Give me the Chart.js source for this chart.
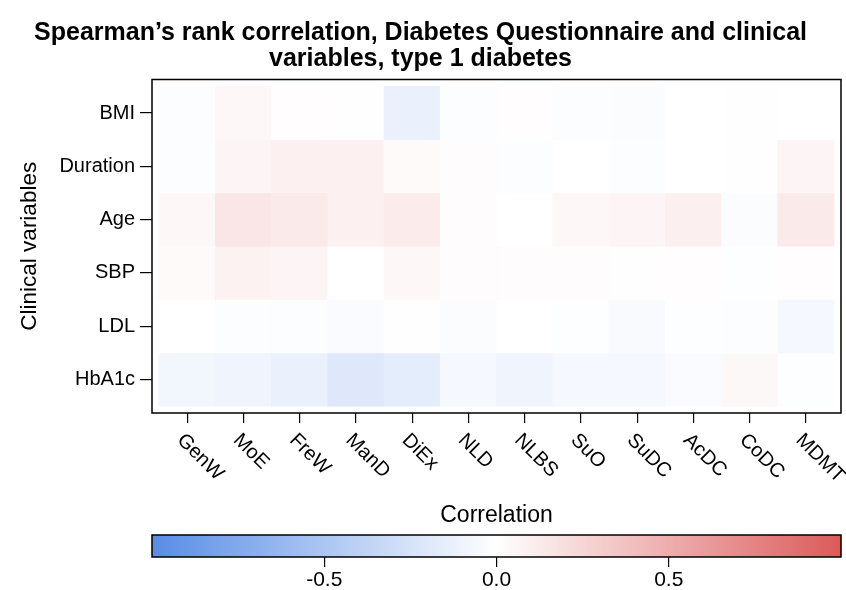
<!DOCTYPE html>
<html>
<head>
<meta charset="utf-8">
<script src="https://cdn.jsdelivr.net/npm/chart.js@4.4.1/dist/chart.umd.min.js"></script>
<style>
  html, body { margin: 0; background: #fff; }
  #wrap { position: relative; width: 846px; height: 590px; }
</style>
</head>
<body>
<div id="wrap"><canvas id="heat" width="846" height="590"></canvas></div>
<script>
// questionnaire items (columns) and clinical variables (rows, top to bottom)
const questionnaireItems = ['GenW', 'MoE', 'FreW', 'ManD', 'DiEx', 'NLD', 'NLBS', 'SuO', 'SuDC', 'AcDC', 'CoDC', 'MDMT'];
const clinicalVars = ['BMI', 'Duration', 'Age', 'SBP', 'LDL', 'HbA1c'];

// Spearman correlations
const bmiCorr      = [-0.02, 0.05, 0.01, 0.005, -0.12, -0.02, 0.01, -0.02, -0.03, 0.0, 0.005, 0.0];
const durationCorr = [-0.02, 0.06, 0.09, 0.09, 0.03, 0.02, -0.02, 0.0, -0.02, 0.0, 0.005, 0.06];
const ageCorr      = [0.05, 0.15, 0.13, 0.09, 0.12, 0.02, 0.0, 0.05, 0.06, 0.1, -0.03, 0.13];
const sbpCorr      = [0.03, 0.08, 0.06, 0.0, 0.05, 0.02, 0.02, 0.02, 0.005, 0.01, -0.01, 0.01];
const ldlCorr      = [0.0, -0.02, -0.02, -0.035, -0.005, -0.025, 0.0, -0.01, -0.04, -0.01, -0.02, -0.06];
const hba1cCorr    = [-0.08, -0.09, -0.12, -0.2, -0.16, -0.06, -0.09, -0.06, -0.06, -0.035, 0.045, -0.01];

const corrRows = [bmiCorr, durationCorr, ageCorr, sbpCorr, ldlCorr, hba1cCorr];
const colorbarTicks = [-0.5, 0, 0.5];

// colour scale: blue - white - red
const lowColor = [88, 140, 230];
const highColor = [220, 90, 90];

function corrColor(v) {
    const t = Math.min(1, Math.abs(v));
    const end = v < 0 ? lowColor : highColor;
    const c = end.map(e => Math.round(255 + (e - 255) * t));
    return `rgb(${c[0]},${c[1]},${c[2]})`;
}

Chart.defaults.font.family = '"Liberation Sans", Arial, sans-serif';
Chart.defaults.color = '#000';

// frame, rotated item labels and colour bar
const decorations = {
    id: 'decorations',
    afterDraw(chart) {
        const ctx = chart.ctx;
        const area = chart.chartArea;
        const xs = chart.scales.x;
        const cb = chart.scales.cb;
        ctx.save();
        ctx.strokeStyle = '#000';
        ctx.lineWidth = 1.5;
        ctx.strokeRect(area.left, area.top, area.right - area.left, area.bottom - area.top);

        ctx.font = '20px "Liberation Sans", Arial, sans-serif';
        ctx.fillStyle = '#000';
        ctx.textAlign = 'left';
        ctx.textBaseline = 'middle';
        questionnaireItems.forEach((name, i) => {
            const px = xs.getPixelForValue(i);
            ctx.save();
            ctx.translate(px - 7, area.bottom + 24);
            ctx.rotate(Math.PI / 4);
            ctx.fillText(name, 0, 0);
            ctx.restore();
        });

        // colour bar sits right above its own axis
        const x0 = cb.getPixelForValue(-1);
        const x1 = cb.getPixelForValue(1);
        const barTop = cb.top - 22;
        const grad = ctx.createLinearGradient(x0, 0, x1, 0);
        grad.addColorStop(0, corrColor(-1));
        grad.addColorStop(0.5, corrColor(0));
        grad.addColorStop(1, corrColor(1));
        ctx.fillStyle = grad;
        ctx.fillRect(x0, barTop, x1 - x0, 22);
        ctx.strokeRect(x0, barTop, x1 - x0, 22);
        ctx.restore();
    }
};

const datasets = clinicalVars.map((name, r) => ({
    label: name,
    data: corrRows[r].map((v, c) => ({ x: c, y: [r - 0.5, r + 0.5] })),
    backgroundColor: corrRows[r].map(corrColor),
    borderWidth: 0,
    grouped: false,
    barPercentage: 1,
    categoryPercentage: 1
}));

new Chart(document.getElementById('heat'), {
    type: 'bar',
    data: { datasets },
    plugins: [decorations],
    options: {
        responsive: false,
        animation: false,
        layout: { padding: { left: 0, right: 5, top: 0, bottom: 0 } },
        plugins: {
            legend: { display: false },
            tooltip: { enabled: false },
            title: {
                display: true,
                text: ['Spearman\u2019s rank correlation, Diabetes Questionnaire and clinical', 'variables, type 1 diabetes'],
                font: { size: 25, weight: 'bold', lineHeight: 1.05 },
                color: '#000',
                padding: { top: 20, bottom: 7 }
            }
        },
        scales: {
            x: {
                type: 'linear',
                position: 'bottom',
                weight: 0,
                min: -0.625,
                max: 11.625,
                offset: false,
                afterBuildTicks: s => { s.ticks = questionnaireItems.map((_, i) => ({ value: i })); },
                afterFit: s => { s.height = 144; },
                ticks: { display: false },
                grid: { display: true, offset: false, drawOnChartArea: false, tickLength: 10, color: '#000', lineWidth: 1.2 },
                border: { display: false },
                title: { display: true, text: 'Correlation', font: { size: 23 }, padding: { top: 0, bottom: 28 } }
            },
            cb: {
                type: 'linear',
                axis: 'x',
                position: 'bottom',
                weight: 1,
                min: -1,
                max: 1,
                offset: false,
                afterBuildTicks: s => { s.ticks = colorbarTicks.map(v => ({ value: v })); },
                afterFit: s => { s.height = 33; },
                ticks: { font: { size: 21 }, padding: 1, callback: v => v.toFixed(1), maxRotation: 0 },
                grid: { display: true, offset: false, drawOnChartArea: false, tickLength: 10, color: '#000', lineWidth: 1.2 },
                border: { display: false }
            },
            y: {
                type: 'linear',
                reverse: true,
                min: -0.63,
                max: 5.63,
                afterBuildTicks: s => { s.ticks = clinicalVars.map((_, i) => ({ value: i })); },
                afterFit: s => { s.width = 152; },
                ticks: { font: { size: 20 }, padding: 5, callback: v => clinicalVars[v] },
                grid: { display: true, offset: false, drawOnChartArea: false, tickLength: 12, color: '#000', lineWidth: 1.2 },
                border: { display: false },
                title: { display: true, text: 'Clinical variables', font: { size: 22.5 }, padding: { top: 16 } }
            }
        }
    }
});
</script>
</body>
</html>
